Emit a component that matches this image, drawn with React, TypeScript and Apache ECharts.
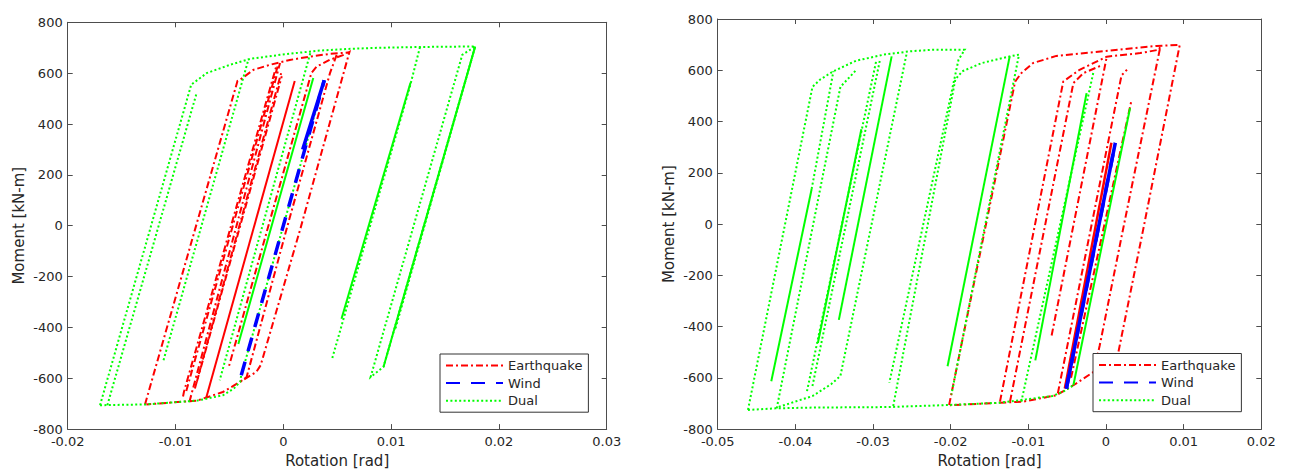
import React, { useEffect, useRef } from "react";
import * as echarts from "echarts";

type Pt = [number, number];

// ---------- axis ticks ----------
const leftXTicks = { min: -0.02, max: 0.03, interval: 0.01 };
const rightXTicks = { min: -0.05, max: 0.02, interval: 0.01 };
const yTicks = { min: -800, max: 800, interval: 200 };

const seriesNames = ["Earthquake", "Wind", "Dual"];

// ---------- left panel ----------
const leftWindDashed: Pt[][] = [[[-0.0039, -588], [0.0038, 572]]];
const leftWindSolid: Pt[][] = [[[0.0018, 300], [0.0038, 572]]];

const leftQuake: Pt[][] = [
  [[-0.01283, -703], [-0.00425, 569], [-0.004, 574], [-0.00278, 613], [-0.00123, 633], [0.0006, 652], [0.00248, 665], [0.00433, 676], [0.006, 681], [0.00614, 684], [0.00157, -14], [-0.0021, -549], [-0.0025, -575], [-0.004, -614], [-0.0056, -654], [-0.008, -688], [-0.0127, -703]],
  [[0.00495, 672], [0.00433, 600], [0.0003, -14], [-0.0034, -595], [-0.004, -614]],
  [[0.0056, 672], [0.0043, 652], [0.0031, 626], [0.0026, 600], [-0.0051, -562]],
  [[-0.0093, -672], [-0.00922, -654], [-0.00065, 627]],
  [[-0.00871, -693], [-0.0003, 640]],
  [[-0.00802, -614], [-0.00014, 588]],
  [[-0.009, -650], [-0.0005, 630]],
  [[-0.0082, -640], [-0.0002, 600]],
];
const leftQuakeSolid: Pt[][] = [[[-0.00717, -680], [0.00106, 569]]];

const leftDual: Pt[][] = [
  [[-0.017, -706], [-0.00854, 555], [-0.00711, 600], [-0.00494, 633], [-0.00309, 656], [-0.0003, 672], [0.0031, 688], [0.0059, 695], [0.009, 700], [0.0128, 703], [0.0178, 705], [0.0166, 672], [0.0081, -595], [0.0093, -555], [0.0178, 705], [0.0104, -405]],
  [[-0.017, -706], [-0.0128, -703], [-0.008, -688], [-0.0056, -667], [-0.0046, -641], [-0.004, -614], [-0.0039, -588], [0.0038, 572]],
  [[-0.01632, -706], [-0.00802, 525]],
  [[-0.01111, -529], [-0.00322, 656]],
  [[0.01268, 703], [0.01175, 548], [0.00449, -529]],
  [[0.0025, 678], [-0.0059, -608]],
];
const leftDualSolid: Pt[][] = [
  [[0.0178, 705], [0.0093, -555]],
  [[0.0118, 562], [0.0054, -366]],
  [[0.00278, 581], [-0.00417, -465]],
];

// ---------- right panel ----------
const rightWindDashed: Pt[][] = [[[-0.0051, -642], [0.0012, 317]]];
const rightWindSolid: Pt[][] = [[[-0.0051, -642], [0.0012, 317]]];

const rightQuake: Pt[][] = [
  [[-0.0202, -706], [-0.0117, 556], [-0.0109, 589], [-0.0094, 628], [-0.0064, 656], [-0.0021, 669], [0.0022, 682], [0.0065, 695], [0.0095, 699], [0.0048, -20], [0.0016, -499], [0.0005, -545], [-0.0016, -577], [-0.0042, -629], [-0.0064, -668], [-0.0107, -693], [-0.0201, -707]],
  [[-0.01365, -693], [-0.0055, 556], [-0.0034, 602], [0.0001, 653], [0.0044, 667], [0.0068, 680], [0.007, 692], [0.0022, -20], [-0.0008, -473], [-0.0016, -577]],
  [[-0.01236, -693], [-0.0042, 550], [-0.0029, 589], [-0.0005, 620]],
  [[-0.007, -435], [0.0001, 653]],
  [[-0.0062, -660], [0.002, 580], [0.0027, 602]],
  [[-0.0045, -600], [0.0033, 485]],
];
const rightQuakeSolid: Pt[][] = [[[-0.0053, -642], [0.0007, 317]]];

const rightDual: Pt[][] = [
  [[-0.0461, -725], [-0.0378, 535], [-0.0368, 564], [-0.0351, 596], [-0.0322, 637], [-0.0286, 661], [-0.0252, 674], [-0.0223, 680], [-0.0182, 680], [-0.019, 640], [-0.0279, -619]],
  [[-0.0461, -725], [-0.0426, -719], [-0.0378, -716], [-0.0281, -714], [-0.0202, -706], [-0.0136, -697], [-0.0103, -684], [-0.0069, -671], [-0.0054, -652], [-0.0042, -629]],
  [[-0.0424, -719], [-0.0342, 535], [-0.0322, 600]],
  [[-0.0379, 137], [-0.0351, 596]],
  [[-0.0385, -652], [-0.0296, 635]],
  [[-0.0378, -632], [-0.0291, 641]],
  [[-0.0257, 661], [-0.0342, -593], [-0.0354, -625], [-0.0378, -671], [-0.0424, -716]],
  [[-0.0274, -710], [-0.0194, 564], [-0.0185, 596], [-0.016, 628], [-0.0124, 654], [-0.0112, 661], [-0.0199, -665]],
  [[-0.0109, -693], [-0.0016, 595]],
];
const rightDualSolid: Pt[][] = [
  [[-0.0431, -613], [-0.0379, 137]],
  [[-0.0371, -464], [-0.0315, 370]],
  [[-0.0344, -374], [-0.0276, 654]],
  [[-0.0204, -555], [-0.0124, 654]],
  [[-0.0091, -532], [-0.0025, 511]],
  [[-0.0042, -629], [0.0031, 453]],
];

// ---------- styles ----------
const RED = "#ff0000";
const BLUE = "#0000ff";
const GREEN = "#00ff00";
const FONT = "DejaVu Sans";
const TEXT = "#262626";
const AXIS = "#4d4d4d";

function makeSeries(
  segs: Pt[][],
  name: string,
  panel: number,
  color: string,
  width: number,
  type: any,
  z: number
) {
  return segs.map((d) => ({
    type: "line",
    name,
    xAxisIndex: panel * 2,
    yAxisIndex: panel * 2,
    data: d,
    showSymbol: false,
    symbol: "none",
    z,
    silent: true,
    color,
    lineStyle: { color, width, type, cap: "butt", join: "miter" },
  }));
}

const DASHDOT = [7, 3, 2, 3];
const DASHED = [14, 11];
const DOTTED = [2, 2.4];

function axisX(panel: number, ticks: any, bottom: boolean) {
  return {
    type: "value",
    gridIndex: panel,
    position: bottom ? "bottom" : "top",
    min: ticks.min,
    max: ticks.max,
    interval: ticks.interval,
    name: bottom ? "Rotation [rad]" : "",
    nameLocation: "middle",
    nameGap: 22,
    nameTextStyle: { fontSize: 15, color: TEXT, fontFamily: FONT },
    axisLine: { show: true, onZero: false, lineStyle: { color: AXIS, width: 1 } },
    axisTick: { show: true, inside: true, length: 5, lineStyle: { color: AXIS } },
    axisLabel: { show: bottom, fontSize: 13, color: TEXT, fontFamily: FONT, margin: 6 },
    splitLine: { show: false },
  };
}
function axisY(panel: number, left: boolean) {
  return {
    type: "value",
    gridIndex: panel,
    position: left ? "left" : "right",
    min: yTicks.min,
    max: yTicks.max,
    interval: yTicks.interval,
    name: left ? "Moment [kN-m]" : "",
    nameLocation: "middle",
    nameGap: 41,
    nameTextStyle: { fontSize: 15, color: TEXT, fontFamily: FONT },
    axisLine: { show: true, onZero: false, lineStyle: { color: AXIS, width: 1 } },
    axisTick: { show: true, inside: true, length: 5, lineStyle: { color: AXIS } },
    axisLabel: { show: left, fontSize: 13, color: TEXT, fontFamily: FONT, margin: 5 },
    splitLine: { show: false },
  };
}
function legendAt(left: number, top: number) {
  return {
    data: seriesNames,
    orient: "vertical",
    left,
    top,
    itemWidth: 57,
    itemHeight: 14,
    itemGap: 4.6,
    padding: [5, 6, 5, 5],
    borderColor: "#333",
    borderWidth: 1,
    borderRadius: 0,
    backgroundColor: "#ffffff",
    selectedMode: false,
    itemStyle: { opacity: 0 },
    textStyle: { fontSize: 13, color: TEXT, fontFamily: FONT },
  };
}

export default function App() {
  const ref = useRef<HTMLDivElement>(null);
  useEffect(() => {
    if (!ref.current) return;
    const chart = echarts.init(ref.current, undefined, { renderer: "svg" });
    const series = [
      ...makeSeries(leftWindDashed, "Wind", 0, BLUE, 3.5, DASHED, 5),
      ...makeSeries(leftQuake, "Earthquake", 0, RED, 2, DASHDOT, 3),
      ...makeSeries(leftDual, "Dual", 0, GREEN, 2, DOTTED, 4),
      ...makeSeries(leftQuakeSolid, "Earthquake", 0, RED, 2, "solid", 3),
      ...makeSeries(leftDualSolid, "Dual", 0, GREEN, 2, "solid", 4),
      ...makeSeries(leftWindSolid, "Wind", 0, BLUE, 3.5, "solid", 5),
      ...makeSeries(rightQuake, "Earthquake", 1, RED, 2, DASHDOT, 3),
      ...makeSeries(rightQuakeSolid, "Earthquake", 1, RED, 2.5, "solid", 3),
      ...makeSeries(rightDual, "Dual", 1, GREEN, 2, DOTTED, 4),
      ...makeSeries(rightDualSolid, "Dual", 1, GREEN, 2, "solid", 4),
      ...makeSeries(rightWindSolid, "Wind", 1, BLUE, 3.5, "solid", 5),
      ...makeSeries(rightWindDashed, "Wind", 1, BLUE, 3.5, DASHED, 5),
    ];
    chart.setOption({
      animation: false,
      backgroundColor: "#ffffff",
      textStyle: { fontFamily: FONT },
      grid: [
        { left: 67.7, top: 22.3, width: 539, height: 408.4, containLabel: false },
        { left: 717.7, top: 19, width: 543.6, height: 411.7, containLabel: false },
      ],
      xAxis: [axisX(0, leftXTicks, true), axisX(0, leftXTicks, false), axisX(1, rightXTicks, true), axisX(1, rightXTicks, false)],
      yAxis: [axisY(0, true), axisY(0, false), axisY(1, true), axisY(1, false)],
      legend: [legendAt(440, 354), legendAt(1093, 353.5)],
      series,
    });
    return () => chart.dispose();
  }, []);
  return (
    <div
      ref={ref}
      style={{ position: "fixed", left: 0, top: 0, width: 1289, height: 473, background: "#fff" }}
    />
  );
}
